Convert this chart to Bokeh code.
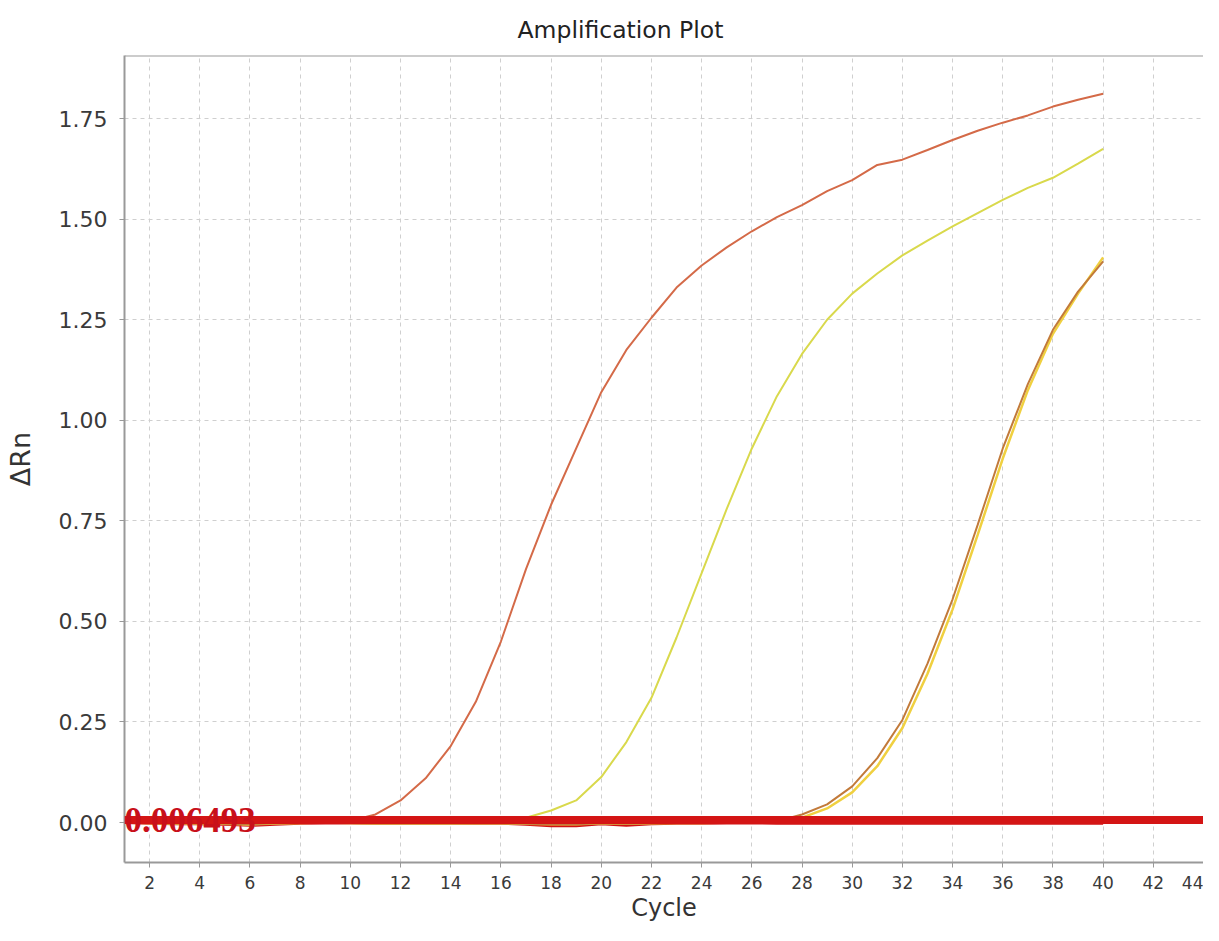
from bokeh.plotting import figure
from bokeh.models import Range1d, FixedTicker, Span, Label, ColumnDataSource, NumeralTickFormatter
from bokeh.embed import file_html
from bokeh.resources import INLINE

# ---- data ----
cycles = list(range(1, 41))
sample_a = [0.0, -0.002, -0.003, -0.002, -0.004, -0.006, -0.003, -0.001, 0.0, 0.004,
            0.02, 0.055, 0.11, 0.19, 0.30, 0.45, 0.63, 0.79, 0.93, 1.07,
            1.175, 1.255, 1.33, 1.385, 1.43, 1.47, 1.505, 1.535, 1.57, 1.597,
            1.635, 1.648, 1.672, 1.697, 1.72, 1.74, 1.758, 1.78, 1.797, 1.812]
sample_b = [0.0, -0.001, -0.002, -0.002, -0.003, -0.004, -0.002, -0.001, 0.0, -0.001,
            -0.002, -0.002, -0.001, -0.002, -0.001, 0.0, 0.012, 0.03, 0.055, 0.113,
            0.20, 0.31, 0.46, 0.62, 0.78, 0.93, 1.06, 1.165, 1.25, 1.315,
            1.365, 1.41, 1.447, 1.482, 1.515, 1.548, 1.578, 1.603, 1.638, 1.675]
sample_c = [0.0, -0.001, -0.002, -0.002, -0.003, -0.004, -0.002, -0.001, 0.0, -0.001,
            -0.002, -0.002, -0.001, -0.002, -0.001, -0.002, -0.003, -0.004, -0.004, -0.002,
            -0.003, -0.002, -0.001, -0.001, 0.0, 0.0, 0.003, 0.02, 0.045, 0.09,
            0.16, 0.255, 0.395, 0.555, 0.74, 0.93, 1.09, 1.225, 1.32, 1.395]
sample_d = [0.0, -0.001, -0.002, -0.002, -0.003, -0.004, -0.002, -0.001, 0.0, -0.001,
            -0.002, -0.002, -0.001, -0.002, -0.001, -0.002, -0.003, -0.004, -0.004, -0.002,
            -0.003, -0.002, -0.001, -0.001, 0.0, 0.0, 0.001, 0.012, 0.035, 0.075,
            0.14, 0.235, 0.37, 0.53, 0.715, 0.905, 1.075, 1.215, 1.315, 1.405]
ntc = [0.0, -0.002, -0.003, -0.003, -0.004, -0.007, -0.004, -0.002, -0.001, -0.001,
       -0.002, -0.002, -0.001, -0.002, -0.001, -0.002, -0.004, -0.008, -0.008, -0.003,
       -0.007, -0.003, -0.002, -0.002, -0.001, -0.001, -0.002, -0.002, -0.001, -0.002,
       -0.002, -0.001, -0.002, -0.002, -0.001, -0.002, -0.002, -0.001, -0.002, -0.002]
threshold = 0.006493
x_ticks = list(range(2, 46, 2))
y_ticks = [0.0, 0.25, 0.5, 0.75, 1.0, 1.25, 1.5, 1.75]
y_top = 1.907

src = ColumnDataSource(dict(cycle=cycles, a=sample_a, b=sample_b, c=sample_c, d=sample_d, n=ntc))

FONT = "DejaVu Sans"

p = figure(width=1203, height=925,
           x_range=Range1d(1, 44.0), y_range=Range1d(-0.0994, y_top),
           output_backend="svg", toolbar_location=None,
           min_border_left=124, min_border_right=0, min_border_top=55, min_border_bottom=63,
           title="Amplification Plot")

p.title.text_font = FONT
p.title.text_font_size = "23.5px"
p.title.text_font_style = "normal"
p.title.text_color = "#222222"
p.title.align = "left"
p.title.offset = 393
p.title.standoff = 24

p.outline_line_color = None
p.background_fill_color = "white"
p.border_fill_color = "white"

# grids
for g in (p.xgrid, p.ygrid):
    g.grid_line_color = "#cfcfcf"
    g.grid_line_dash = "4 4"
    g.grid_line_width = 1
p.xaxis.ticker = FixedTicker(ticks=x_ticks)
p.yaxis.ticker = FixedTicker(ticks=y_ticks)
p.yaxis.formatter = NumeralTickFormatter(format="0.00")

for ax in (p.xaxis, p.yaxis):
    ax.axis_line_color = "#999999"
    ax.axis_line_width = 2
    ax.major_tick_line_color = "#999999"
    ax.major_tick_in = 0
    ax.major_tick_out = 5
    ax.minor_tick_line_color = None
    ax.major_label_text_font = FONT
    ax.major_label_text_color = "#3a3a3a"
    ax.axis_label_text_font = FONT
    ax.axis_label_text_font_style = "normal"
    ax.axis_label_text_color = "#333333"

p.yaxis.major_label_text_font_size = "22px"
p.yaxis.major_label_standoff = 12
p.yaxis.axis_label = "ΔRn"
p.yaxis.axis_label_text_font_size = "27px"
p.yaxis.axis_label_standoff = 20

p.xaxis.major_label_text_font_size = "17px"
p.xaxis.major_label_standoff = 8
p.xaxis.axis_label = "Cycle"
p.xaxis.axis_label_text_font_size = "24px"
p.xaxis.axis_label_standoff = 2

# top border line
p.add_layout(Span(location=y_top, dimension="width", line_color="#999999", line_width=2))

# curves
p.line("cycle", "n", source=src, line_color="#d01010", line_width=3)
p.line("cycle", "a", source=src, line_color="#d46a48", line_width=2)
p.line("cycle", "b", source=src, line_color="#d9d94c", line_width=2)
p.line("cycle", "d", source=src, line_color="#f0d040", line_width=2.5)
p.line("cycle", "c", source=src, line_color="#c27a3a", line_width=2)

# threshold
p.add_layout(Span(location=threshold, dimension="width", line_color="#d41515", line_width=8))
p.add_layout(Label(x=1.0, y=threshold, text=f"{threshold:.6f}", text_font="Liberation Serif",
                   text_font_size="35px", text_font_style="bold", text_color="#c8101a",
                   text_baseline="alphabetic", y_offset=0))

open("out.html", "w").write(file_html(p, INLINE))
